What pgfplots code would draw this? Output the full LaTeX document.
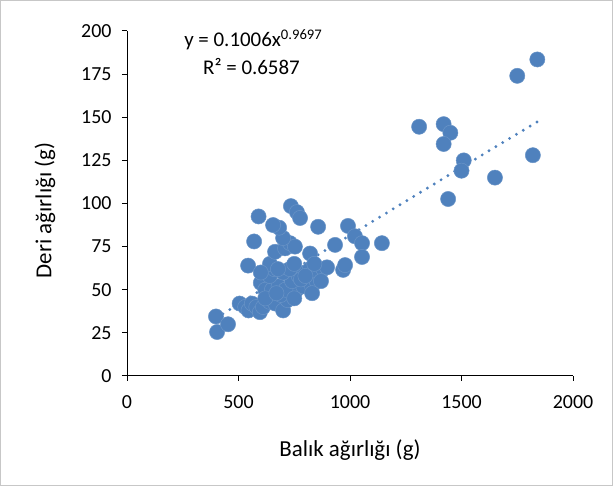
\documentclass[border=0pt]{standalone}
\usepackage{pgfplots}
\pgfplotsset{compat=1.18}
\usepackage{fontspec}
\setmainfont{Carlito}
\definecolor{xlblue}{RGB}{79,129,189}
\begin{document}
\begin{tikzpicture}
\useasboundingbox (0,0) rectangle (613bp,486bp);
\draw[color=black!22, line width=1bp] (0.5bp,0.5bp) rectangle (612.5bp,485.5bp);
\begin{axis}[
  at={(127bp,110bp)}, anchor=south west,
  scale only axis, width=446bp, height=345bp,
  xmin=0, xmax=2000, ymin=0, ymax=200,
  xtick={0,500,1000,1500,2000},
  ytick={0,25,50,75,100,125,150,175,200},
  axis x line*=bottom, axis y line*=left,
  axis line style={black, line width=1bp},
  tick style={black, line width=1bp},
  tick align=outside, major tick length=5bp,
  /pgf/number format/assume math mode=true,
  /pgf/number format/1000 sep={},
  ticklabel style={font=\fontsize{20}{24}\selectfont, text=black},
  xticklabel style={yshift=-11bp},
  yticklabel style={xshift=-7bp},
  xlabel={Balık ağırlığı (g)},
  ylabel={Deri ağırlığı (g)},
  label style={font=\fontsize{23}{27}\selectfont, text=black},
  xlabel style={at={(axis description cs:0.5,-0.2145)}, anchor=center},
  ylabel style={at={(axis description cs:-0.184,0.48)}, anchor=center, rotate=0},
  clip=false,
]
\addplot[only marks, mark=*, mark size=7.6bp, color=xlblue, mark options={fill=xlblue, draw=xlblue!85!white, line width=0.5bp}] coordinates {
(399,34.5) (404,25.5) (453,30) (505,42) (530,40) (545,38) (560,42) (580,40)
(596,37) (610,40) (640,43) (665,42) (700,38) (720,44) (690,47) (760,50)
(790,52) (830,52) (850,55) (600,54) (620,50) (650,50) (680,52) (710,50)
(740,55) (770,58) (800,60) (820,62) (860,60) (880,62) (640,58) (660,62)
(700,60) (730,62) (750,65) (780,56) (543,64) (641,65) (677,62) (664,72)
(709,74) (731,77) (753,75) (700,80) (682,86) (655,87.5) (570,78) (590,92.5)
(735,98.5) (762,95) (776,91.6) (821,71) (857,86.5) (897,63) (933,76) (969,61.5)
(978,64.3) (991,87) (1022,81) (1054,77) (1054,69) (1143,77) (600,60) (620,45)
(670,48) (750,45) (800,58) (830,48) (870,55) (840,65)
(1310,144.5) (1420,146) (1450,141) (1420,134.5) (1820,128) (1510,125)
(1500,119) (1650,115) (1440,102.6) (1750,174) (1840,183.5)
};
\addplot[color=xlblue, line width=3.2bp, line cap=round, dash pattern=on 0bp off 8bp, mark=none] coordinates {
(400,33.57) (600,49.73) (800,65.73) (1000,81.60) (1200,97.38) (1400,113.08) (1600,128.72) (1840,147.40)
};
\node[anchor=west, font=\fontsize{21}{25}\selectfont, inner sep=0pt] at (axis cs:256,194.8) {y = 0.1006x\textsuperscript{0.9697}};
\node[anchor=west, font=\fontsize{21}{25}\selectfont, inner sep=0pt] at (axis cs:341,179.2) {R² = 0.6587};
\end{axis}
\end{tikzpicture}
\end{document}
